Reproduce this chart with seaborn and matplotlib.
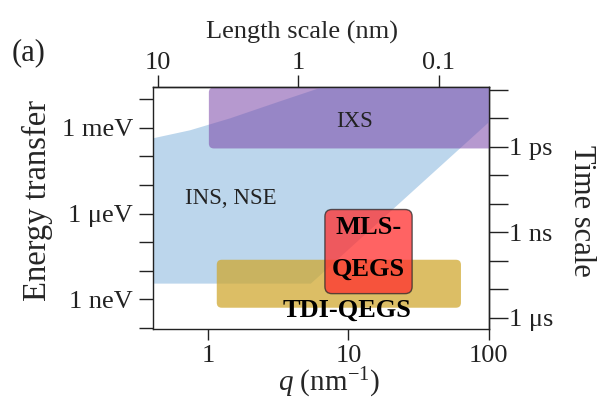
import numpy as np
import matplotlib
matplotlib.use("Agg")
import matplotlib.pyplot as plt
import seaborn as sns
from matplotlib.patches import FancyBboxPatch
from matplotlib.transforms import IdentityTransform
from matplotlib.ticker import FixedLocator, NullFormatter, NullLocator

# ---------------- data ----------------
# axis ranges: momentum transfer q (nm^-1) and energy transfer (eV)
q_range = [0.4, 100]
e_range = [9e-11, 2.7e-2]

# neutron scattering (INS, NSE) accessible region outline
nse_q = [0.3, 5.4, 150, 150, 14.6, 6.8, 3.25, 1.43, 0.74, 0.403, 0.3]
nse_e = [3.5e-9, 3.5e-9, 9.3e-3, 0.1, 0.1, 2.86e-2, 8.5e-3, 2.15e-3, 8.2e-4, 4.3e-4, 3.6e-4]

# rectangular technique windows: (q_min, q_max), (E_min, E_max)
ixs_q = [1.01, 130]
ixs_e = [1.9e-4, 0.026]
tdi_q = [1.15, 63.6]
tdi_e = [5.0e-10, 2.4e-8]
mls_q = [6.8, 28.5]
mls_e = [1.56e-9, 1.38e-6]

# tick definitions
q_ticks = [1, 10, 100]
q_labels = ["1", "10", "100"]
len_ticks = [10, 1, 0.1]
len_labels = ["10", "1", "0.1"]
e_major = [1e-3, 1e-6, 1e-9]
e_major_labels = ["1 meV", "1 \u03bceV", "1 neV"]
e_minor = [1e-2, 1e-4, 1e-5, 1e-7, 1e-8, 1e-10]
t_major = [1e-12, 1e-9, 1e-6]
t_major_labels = ["1 ps", "1 ns", "1 \u03bcs"]
t_minor = [1e-14, 1e-13, 1e-11, 1e-10, 1e-8, 1e-7]

# conversion constants for the secondary axes
LEN_CONST = 4.4       # length (nm) = LEN_CONST / q
TIME_CONST = 2.2e-16  # time (s) = TIME_CONST / E(eV)

# colours
c_blue = "#bcd6ec"
c_purple = "#7a45a8"
c_gold = "#cfa62a"
c_red = "#ff2f2f"

# ---------------- style ----------------
sns.set_theme(style="ticks")
plt.rcParams.update({
    "font.family": ["Liberation Serif", "DejaVu Serif"],
    "mathtext.fontset": "custom",
    "mathtext.rm": "Liberation Serif",
    "mathtext.it": "Liberation Serif:italic",
    "mathtext.bf": "Liberation Serif:bold",
    "axes.edgecolor": "#222222",
    "axes.linewidth": 1.0,
    "xtick.color": "#222222",
    "ytick.color": "#222222",
    "text.color": "#222222",
})

W, H = 605, 399
fig = plt.figure(figsize=(W / 100, H / 100), dpi=100)
ax = fig.add_axes([152.5 / W, (H - 329) / H, 336 / W, 242 / H])
ax.set_xscale("log")
ax.set_yscale("log")
ax.set_xlim(q_range)
ax.set_ylim(e_range)
ax.set_facecolor("white")
ax.grid(False)

TICK_FS = 19


def safe_inv(const):
    def f(x):
        x = np.array(x, dtype=float)
        out = np.full_like(x, np.inf)
        ok = x > 0
        out[ok] = const / x[ok]
        return out
    return f


# bottom axis (q)
ax.xaxis.set_major_locator(FixedLocator(q_ticks))
ax.set_xticklabels(q_labels)
ax.xaxis.set_minor_locator(NullLocator())
ax.tick_params(axis="x", which="major", direction="out", length=8, width=1,
               labelsize=TICK_FS, pad=3.4)

# left axis (energy)
ax.yaxis.set_major_locator(FixedLocator(e_major))
ax.set_yticklabels(e_major_labels)
ax.yaxis.set_minor_locator(FixedLocator(e_minor))
ax.yaxis.set_minor_formatter(NullFormatter())
ax.tick_params(axis="y", which="both", direction="out", length=10, width=1,
               labelsize=TICK_FS, pad=4)

# top axis (length scale)
top = ax.secondary_xaxis("top", functions=(safe_inv(LEN_CONST), safe_inv(LEN_CONST)))
top.xaxis.set_major_locator(FixedLocator(len_ticks))
top.set_xticklabels(len_labels)
top.xaxis.set_minor_locator(NullLocator())
top.tick_params(axis="x", which="major", direction="out", length=9, width=1,
                labelsize=TICK_FS, pad=0)
top.set_xlabel("Length scale (nm)", fontsize=19)
top.xaxis.set_label_coords(0.446, 1.20, transform=ax.transAxes)

# right axis (time scale)
right = ax.secondary_yaxis("right", functions=(safe_inv(TIME_CONST), safe_inv(TIME_CONST)))
right.yaxis.set_major_locator(FixedLocator(t_major))
right.set_yticklabels(t_major_labels)
right.yaxis.set_minor_locator(FixedLocator(t_minor))
right.yaxis.set_minor_formatter(NullFormatter())
right.tick_params(axis="y", which="both", direction="out", length=14, width=1,
                  labelsize=TICK_FS, pad=1)
right.set_ylabel("Time scale", fontsize=22, rotation=-90)
right.yaxis.label.set_va("bottom")
right.yaxis.set_label_coords(1.235, 0.49, transform=ax.transAxes)

ax.set_xlabel("$q$ (nm$^{-1}$)", fontsize=21)
ax.xaxis.label.set_va("baseline")
ax.xaxis.set_label_coords(0.525, -0.257)
ax.set_ylabel("Energy transfer", fontsize=23.5)
ax.yaxis.set_label_coords(-0.296, 0.533)

for s in ax.spines.values():
    s.set_linewidth(1.0)
    s.set_color("#222222")

# ---------------- regions ----------------
ax.fill(nse_q, nse_e, color=c_blue, lw=0, zorder=1)


def rounded_box(qs, es, radius, **kw):
    (x0, y0), (x1, y1) = ax.transData.transform([(qs[0], es[0]), (qs[1], es[1])])
    box = FancyBboxPatch((x0, y0), x1 - x0, y1 - y0,
                         boxstyle=f"round,pad=0,rounding_size={radius}",
                         transform=IdentityTransform(), **kw)
    ax.add_patch(box)
    return box


rounded_box(ixs_q, ixs_e, 5, facecolor=c_purple, alpha=0.55, lw=0, zorder=2)
rounded_box(tdi_q, tdi_e, 5, facecolor=c_gold, alpha=0.72, lw=0, zorder=3)
rounded_box(mls_q, mls_e, 7, facecolor=c_red, alpha=0.75, edgecolor="#2a2a2a",
            lw=1.0, zorder=4)

ax.text(11.06, 1.05e-3, "IXS", fontsize=16.5, ha="center", va="baseline", zorder=6)
ax.text(1.45, 2.2e-6, "INS, NSE", fontsize=16.5, ha="center", va="baseline", zorder=6)
ax.text(13.9, 6.0e-8, "MLS-\nQEGS", fontsize=19, fontweight="bold", ha="center",
        va="center", linespacing=2.0, color="black", zorder=6)
ax.text(9.7, 2.45e-10, "TDI-QEGS", fontsize=19, fontweight="bold", ha="center",
        va="baseline", color="black", zorder=6)

fig.text(12 / W, 1 - 60 / H, "(a)", fontsize=22, ha="left", va="baseline")

fig.savefig("out.png", dpi=100)
